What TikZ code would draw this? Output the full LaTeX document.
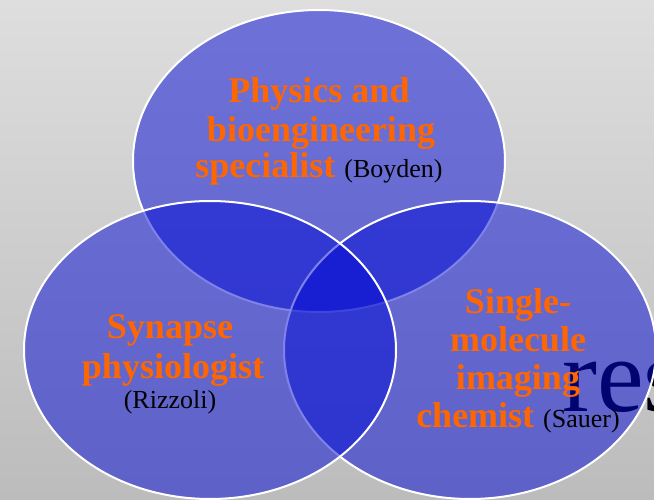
\documentclass[tikz,border=0pt]{standalone}
\usepackage{fontspec}
\setmainfont{Liberation Serif}
\definecolor{bgtop}{RGB}{222,222,222}
\definecolor{bgbot}{RGB}{188,188,188}
\definecolor{vennblue}{RGB}{0,8,212}
\definecolor{labelorange}{RGB}{255,102,0}
\definecolor{resnavy}{RGB}{0,0,12}
\tikzset{
  venn/.style={fill=vennblue, fill opacity=0.5, draw=white, line width=2pt},
  role/.style={anchor=base, inner sep=0pt, text=labelorange, font=\fontsize{36}{38}\selectfont\bfseries},
  who/.style={font=\fontsize{26}{30}\mdseries\selectfont, text=black},
}
\begin{document}
\begin{tikzpicture}[x=1pt,y=-1pt]
\shade[top color=bgtop, bottom color=bgbot] (0,0) rectangle (654,500);
\useasboundingbox (0,0) rectangle (654,500);
\node[anchor=base west, inner sep=0pt, text=resnavy, font=\fontsize{105}{110}\selectfont] (res) at (562,411) {res};
\path[venn] (319,161) ellipse [x radius=186pt, y radius=151pt];
\path[venn] (470,350) ellipse [x radius=186pt, y radius=149pt];
\path[venn] (210,350) ellipse [x radius=186pt, y radius=149pt];
% top
\node[role] (t1) at (319,103) {Physics and};
\node[role] (t2) at (321,142) {bioengineering};
\node[role] (t3) at (319,178) {specialist {\fontsize{26}{30}\mdseries\selectfont\color{black} (Boyden)}};
% left
\node[role] (l1) at (170,338) {Synapse};
\node[role] (l2) at (173,378) {physiologist};
\node[role, who] (l3) at (170,408) {(Rizzoli)};
% right
\node[role] (r1) at (518,313) {Single-};
\node[role] (r2) at (518,351) {molecule};
\node[role] (r3) at (518,389) {imaging};
\node[role] (r4) at (518,427) {chemist {\fontsize{26}{30}\mdseries\selectfont\color{black} (Sauer)}};
\end{tikzpicture}
\end{document}
